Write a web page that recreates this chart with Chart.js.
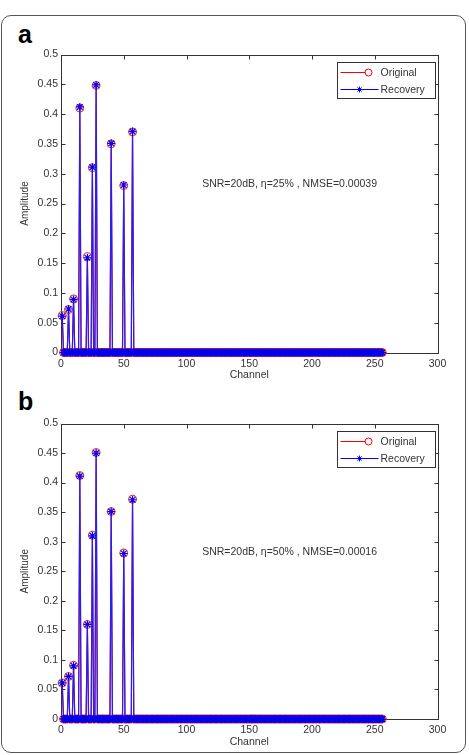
<!DOCTYPE html>
<html>
<head>
<meta charset="utf-8">
<script src="https://cdn.jsdelivr.net/npm/chart.js@4.4.0/dist/chart.umd.min.js"></script>
<style>
body{margin:0;background:#fff;width:469px;height:755px;position:relative;overflow:hidden;font-family:"Liberation Sans",Arial,sans-serif;}
.frame{position:absolute;left:1px;top:15px;width:465px;height:738px;border:1.5px solid #555;border-radius:10px;box-sizing:border-box;}
.tag{position:absolute;left:18px;font-weight:bold;font-size:25px;line-height:25px;color:#000;}
canvas{position:absolute;left:0;}
</style>
</head>
<body>
<div class="frame"></div>
<div class="tag" style="top:22px">a</div>
<div class="tag" style="top:389px">b</div>
<canvas id="chartA" width="469" height="390" style="top:0px"></canvas>
<canvas id="chartB" width="469" height="385" style="top:370px"></canvas>
<script>
// channels 1..256, everything zero apart from the sparse spikes
const channelCount = 256;
const spikeChannels = [1, 6, 10, 15, 21, 25, 28, 40, 50, 57];
const originalA = [0.062, 0.072, 0.090, 0.410, 0.161, 0.310, 0.448, 0.350, 0.280, 0.370];
const recoveryA = [0.061, 0.073, 0.089, 0.412, 0.159, 0.311, 0.449, 0.351, 0.281, 0.371];
const originalB = [0.061, 0.072, 0.091, 0.412, 0.160, 0.311, 0.451, 0.351, 0.281, 0.372];
const recoveryB = [0.061, 0.072, 0.090, 0.411, 0.160, 0.310, 0.450, 0.351, 0.280, 0.371];
const xTicks = [0, 50, 100, 150, 200, 250, 300];
const yTicks = [0, 0.05, 0.1, 0.15, 0.2, 0.25, 0.3, 0.35, 0.4, 0.45, 0.5];
const noteA = 'SNR=20dB, \u03b7=25% , NMSE=0.00039';
const noteB = 'SNR=20dB, \u03b7=50% , NMSE=0.00016';
const notePos = [112.5, 0.283]; // channel, amplitude

const FONT = '"Liberation Sans", Arial, sans-serif';
const TXT = '#333';
Chart.defaults.font.family = FONT;

function series(vals){
    const out = [];
    for(let ch=1; ch<=channelCount; ch++){
        const i = spikeChannels.indexOf(ch);
        out.push({x: ch, y: i>=0 ? vals[i] : 0});
    }
    return out;
}

function drawStar(ctx, x, y, r){
    ctx.beginPath();
    ctx.moveTo(x-r, y); ctx.lineTo(x+r, y);
    ctx.moveTo(x, y-r); ctx.lineTo(x, y+r);
    const d = r*0.707;
    ctx.moveTo(x-d, y-d); ctx.lineTo(x+d, y+d);
    ctx.moveTo(x-d, y+d); ctx.lineTo(x+d, y-d);
    ctx.stroke();
}

// matlab style box with inward ticks, under the data
const axesBox = {
    id: 'axesBox',
    beforeDatasetsDraw(chart){
        const {ctx, chartArea:{left,right,top,bottom}, scales:{x,y}} = chart;
        const L = Math.round(left)+0.5, R = Math.round(right)+0.5;
        const T = Math.round(top)+0.5, B = Math.round(bottom)+0.5;
        ctx.save();
        ctx.strokeStyle = '#333'; ctx.lineWidth = 1;
        ctx.strokeRect(L, T, R-L, B-T);
        ctx.beginPath();
        xTicks.forEach(v=>{
            const px = Math.round(x.getPixelForValue(v))+0.5;
            ctx.moveTo(px, B); ctx.lineTo(px, B-4);
            ctx.moveTo(px, T); ctx.lineTo(px, T+4);
        });
        yTicks.forEach(v=>{
            const py = Math.round(y.getPixelForValue(v))+0.5;
            ctx.moveTo(L, py); ctx.lineTo(L+4, py);
            ctx.moveTo(R, py); ctx.lineTo(R-4, py);
        });
        ctx.stroke();
        ctx.restore();
    },
    afterDraw(chart){
        const {ctx, chartArea:{right,top}, scales:{x,y}} = chart;
        const note = chart.options.plugins.axesBox.note;
        ctx.save();
        // annotation
        ctx.fillStyle = TXT;
        ctx.font = '10.5px ' + FONT;
        ctx.textBaseline = 'middle';
        ctx.textAlign = 'left';
        ctx.fillText(note, x.getPixelForValue(notePos[0]), y.getPixelForValue(notePos[1]));
        // legend
        const bx = Math.round(right) - 100.5, by = Math.round(top) + 7.5, bw = 98, bh = 36;
        ctx.fillStyle = '#fff';
        ctx.fillRect(bx, by, bw, bh);
        ctx.strokeStyle = '#333'; ctx.lineWidth = 1;
        ctx.strokeRect(bx, by, bw, bh);
        const y1 = by + 10, y2 = by + 27;
        ctx.strokeStyle = '#ff0000';
        ctx.beginPath(); ctx.moveTo(bx+3, y1); ctx.lineTo(bx+28, y1); ctx.stroke();
        ctx.beginPath(); ctx.arc(bx+31, y1, 3.5, 0, Math.PI*2); ctx.stroke();
        ctx.strokeStyle = '#0000ff';
        ctx.beginPath(); ctx.moveTo(bx+3, y2); ctx.lineTo(bx+41, y2); ctx.stroke();
        drawStar(ctx, bx+22, y2, 3);
        ctx.fillStyle = TXT;
        ctx.fillText('Original', bx+43, y1+0.5);
        ctx.fillText('Recovery', bx+43, y2+0.5);
        ctx.restore();
    }
};

function makePanel(id, orig, rec, note, areaTop, areaBottom){
    const canvas = document.getElementById(id);
    const H = canvas.height;
    const tickFont = {family: FONT, size: 10.5};
    return new Chart(canvas, {
        type: 'line',
        data: {
            datasets: [
                {label: 'Recovery', data: series(rec), order: 0, clip: false,
                 borderColor: '#2020ff', borderWidth: 1.2, tension: 0,
                 pointStyle: 'star', pointRadius: 4, pointBorderWidth: 1.2,
                 pointBorderColor: '#0000ee', pointBackgroundColor: '#0000ee'},
                {label: 'Original', data: series(orig), order: 1, clip: false,
                 borderColor: '#ff0000', borderWidth: 1.2, tension: 0,
                 pointStyle: 'circle', pointRadius: 4, pointBorderWidth: 1,
                 pointBorderColor: '#ff2020', pointBackgroundColor: 'rgba(0,0,0,0)'}
            ]
        },
        options: {
            responsive: false,
            animation: false,
            events: [],
            layout: {padding: {left: 0, top: areaTop, right: 469-437.5, bottom: H-areaBottom-30}},
            plugins: {legend: {display: false}, tooltip: {enabled: false}, axesBox: {note: note}},
            scales: {
                x: {
                    type: 'linear', min: 0, max: 300,
                    afterBuildTicks: s => { s.ticks = xTicks.map(v=>({value: v})); },
                    afterFit: s => { s.height = 30; },
                    grid: {display: false, drawTicks: false},
                    border: {display: false},
                    ticks: {padding: 5, color: TXT, font: tickFont, maxRotation: 0, autoSkip: false},
                    title: {display: true, text: 'Channel', color: TXT, font: tickFont, padding: {top: 0, bottom: 1}}
                },
                y: {
                    type: 'linear', min: 0, max: 0.5,
                    afterBuildTicks: s => { s.ticks = yTicks.map(v=>({value: v})); },
                    afterFit: s => { s.width = 61; },
                    grid: {display: false, drawTicks: false},
                    border: {display: false},
                    ticks: {padding: 3, color: TXT, font: tickFont, autoSkip: false,
                            callback: v => String(+v.toFixed(2))},
                    title: {display: true, text: 'Amplitude', color: TXT, font: {family: FONT, size: 10}, padding: {top: 19, bottom: 0}}
                }
            }
        },
        plugins: [axesBox]
    });
}

makePanel('chartA', originalA, recoveryA, noteA, 54.5, 352.5);
makePanel('chartB', originalB, recoveryB, noteB, 53.5, 349);
</script>
</body>
</html>
